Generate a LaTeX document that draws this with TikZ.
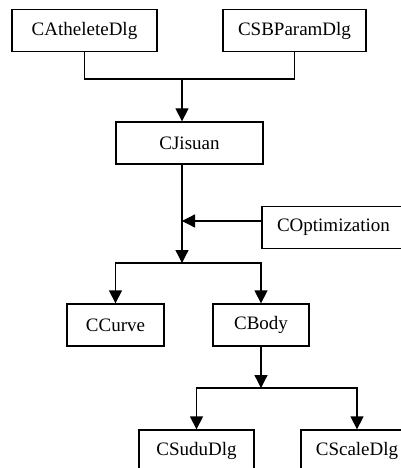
\documentclass[tikz,border=0pt]{standalone}
\usepackage{fontspec}
\setmainfont{Liberation Serif}
\usetikzlibrary{arrows.meta}
\begin{document}
\begin{tikzpicture}[x=1pt,y=-1pt,
  box/.style={draw, line width=1.3pt, minimum height=42pt, inner sep=0pt, font=\fontsize{19}{22}\selectfont},
  conn/.style={line width=1.3pt},
  arr/.style={conn,-{Triangle[width=13pt,length=13pt]}}]
\useasboundingbox (0,0) rectangle (401,468);
\clip (0,0) rectangle (401,468);
\node[box,minimum width=145pt] (A) at (84.5,30.5) {CAtheleteDlg};
\node[box,minimum width=143pt] (B) at (294.5,30.5) {CSBParamDlg};
\node[box,minimum width=147pt] (J) at (189.5,143) {CJisuan};
\node[box,minimum width=143pt] (O) at (333.5,227.5) {COptimization};
\node[box,minimum width=97pt] (Cu) at (115.5,325) {CCurve};
\node[box,minimum width=96pt] (Bo) at (261,325) {CBody};
\node[box,minimum width=115pt] (S) at (196.5,451) {CSuduDlg};
\node[box,minimum width=112pt] (Sc) at (357,451) {CScaleDlg};
\coordinate (m1) at (182,79);
\coordinate (m2) at (182,263);
\coordinate (m3) at (182,221);
\coordinate (m4) at (261,388);
\draw[conn] (A.south) |- (m1) -| (B.south);
\draw[arr] (m1) -- (m1 |- J.north);
\draw[arr] (m2 |- J.south) -- (m2);
\draw[arr] (m3 -| O.west) -- (m3);
\draw[arr] (m2) -| (Cu.north);
\draw[arr] (m2) -| (Bo.north);
\draw[arr] (Bo.south) -- (m4);
\draw[arr] (m4) -| (S.north);
\draw[arr] (m4) -| (Sc.north);
\end{tikzpicture}
\end{document}
